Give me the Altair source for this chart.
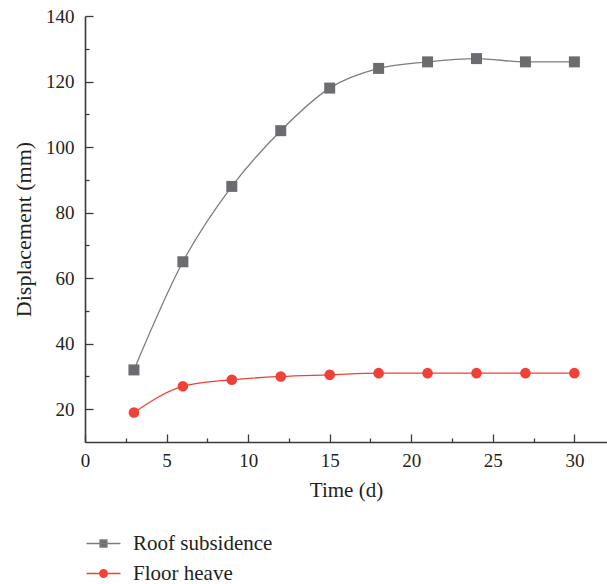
import altair as alt
import pandas as pd

# ---- data ----
days = [3, 6, 9, 12, 15, 18, 21, 24, 27, 30]
roof = [32, 65, 88, 105, 118, 124, 126, 127, 126, 126]
floor = [19, 27, 29, 30, 30.5, 31, 31, 31, 31, 31]
series = ["Roof subsidence", "Floor heave"]

x_major = [0, 5, 10, 15, 20, 25, 30]
x_minor = [2.5, 7.5, 12.5, 17.5, 22.5, 27.5, 32.5]
y_major = [20, 40, 60, 80, 100, 120, 140]
y_minor = [30, 50, 70, 90, 110, 130]

# ---- styles ----
line_colors = ["#7d7d7d", "#ef4136"]
mark_colors = ["#6b6b70", "#ef4136"]
FONT = "Liberation Serif"
TEXT = "#231f20"
AXIS = "#3a3a3a"
legend_paths = [
    "M-3,0H3M-0.6,-0.6H0.6V0.6H-0.6Z",
    "M-3,0H3M-0.65,0A0.65,0.65,0,1,0,0.65,0A0.65,0.65,0,1,0,-0.65,0Z",
]

df = pd.DataFrame({
    "day": days + days,
    "value": roof + floor,
    "series": [series[0]] * len(days) + [series[1]] * len(days),
})

xs = alt.Scale(domain=[0, 32], nice=False, zero=False)
ys = alt.Scale(domain=[10, 140], nice=False, zero=False)

main_x = alt.Axis(values=x_major, ticks=False, domain=True, grid=False, title="Time (d)",
                  labelPadding=9, titlePadding=9, orient="bottom", format="d", titleFontSize=21,
                  labelFlush=False)
main_y = alt.Axis(values=y_major, ticks=False, domain=True, grid=False, title="Displacement (mm)",
                  labelPadding=11, titlePadding=10, orient="left", titleFontSize=22,
                  labelFlush=False)


def tick_axis(vals, size, orient):
    return alt.Axis(values=vals, labels=False, domain=False, ticks=True,
                    tickSize=alt.ExprRef("-%d" % size), title=None, grid=False, orient=orient)


lines = alt.Chart(df).mark_line(interpolate="monotone", strokeWidth=1.3).encode(
    x=alt.X("day:Q", scale=xs, axis=main_x),
    y=alt.Y("value:Q", scale=ys, axis=main_y),
    color=alt.Color("series:N", scale=alt.Scale(domain=series, range=line_colors), legend=None),
)

roof_pts = alt.Chart(df).transform_filter(alt.datum.series == series[0]).mark_point(
    shape="square", filled=True, size=121, opacity=1, color=mark_colors[0]
).encode(
    x=alt.X("day:Q", scale=xs, axis=tick_axis(x_major, 8, "bottom")),
    y=alt.Y("value:Q", scale=ys, axis=tick_axis(y_major, 8, "left")),
)

floor_pts = alt.Chart(df).transform_filter(alt.datum.series == series[1]).mark_point(
    shape="circle", filled=True, size=113, opacity=1, color=mark_colors[1]
).encode(
    x=alt.X("day:Q", scale=xs, axis=tick_axis(x_minor, 4, "bottom")),
    y=alt.Y("value:Q", scale=ys, axis=tick_axis(y_minor, 4, "left")),
)

leg = alt.Legend(orient="none", legendX=8, legendY=517, title=None, labelFont=FONT,
                 labelFontSize=21, labelColor=TEXT, symbolSize=128, labelOffset=19,
                 rowPadding=8, padding=0, symbolStrokeWidth=1.5, direction="vertical")

# legend-only layer: its marks have zero size, only the legend is visible
legend_layer = alt.Chart(df).mark_point(
    filled=True, opacity=1, strokeWidth=1.5, size=0
).encode(
    x=alt.X("day:Q", scale=xs, axis=None),
    y=alt.Y("value:Q", scale=ys, axis=None),
    fill=alt.Fill("series:N", scale=alt.Scale(domain=series, range=mark_colors), legend=leg),
    stroke=alt.Stroke("series:N", scale=alt.Scale(domain=series, range=line_colors), legend=leg),
    shape=alt.Shape("series:N", scale=alt.Scale(domain=series, range=legend_paths), legend=leg),
)

chart = alt.layer(legend_layer, lines, roof_pts, floor_pts).resolve_axis(
    x="independent", y="independent"
).properties(
    width=522, height=426,
    autosize=alt.AutoSizeParams(type="none"),
    padding={"left": 85, "top": 16, "right": 0, "bottom": 142},
).configure_view(stroke=None).configure_axis(
    labelFont=FONT, labelFontSize=19, labelColor=TEXT,
    titleFont=FONT, titleColor=TEXT, titleFontWeight="normal",
    domainColor=AXIS, domainWidth=1.6, tickColor=AXIS, tickWidth=1.3,
)

chart.save("out.html", embed_options={"renderer": "svg", "actions": False})
